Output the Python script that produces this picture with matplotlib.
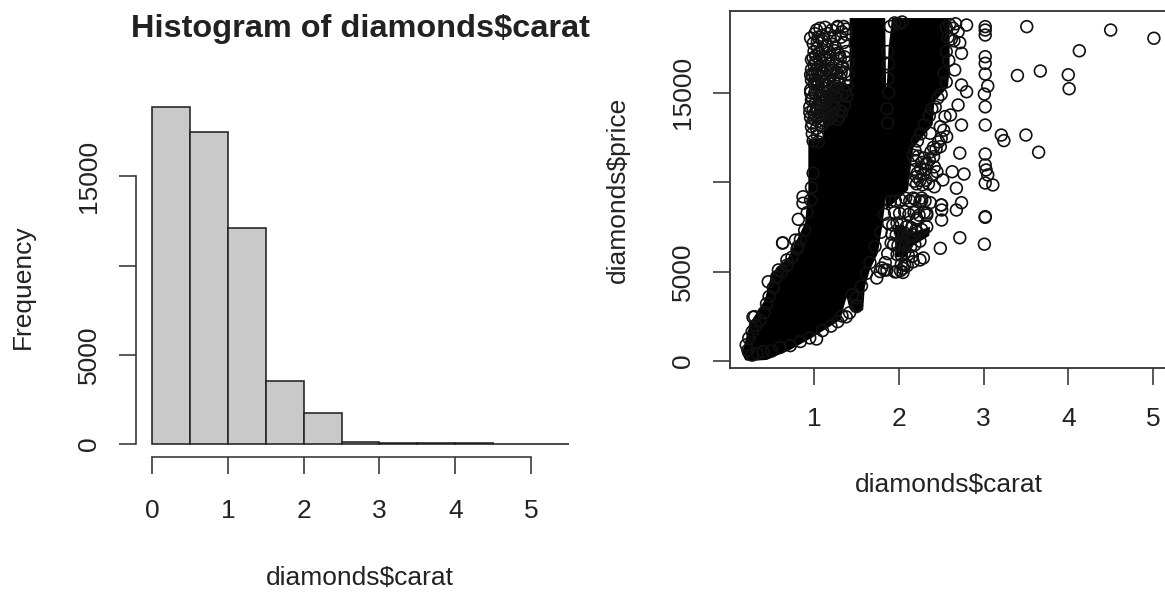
import numpy as np
import matplotlib
matplotlib.use('Agg')
import matplotlib.pyplot as plt

plt.rcParams['font.family'] = ['Liberation Sans', 'DejaVu Sans']

W, H = 1165, 592

# histogram of carat
bin_edges = [0, 0.5, 1, 1.5, 2, 2.5, 3, 3.5, 4, 4.5, 5, 5.5]
bin_counts = [18930, 17520, 12080, 3540, 1740, 90, 14, 6, 3, 1, 1]

# readable single points of the scatter (carat, price)
outlier_carat = [2.80, 3.02, 3.02, 3.02, 3.51, 4.50, 5.01, 4.13, 3.67, 3.40, 4.00, 4.01, 3.50, 3.21, 3.24, 3.65,
                 3.02, 3.02, 3.02, 3.05, 3.01, 3.02, 3.02, 3.02, 3.02, 3.03, 3.05, 3.02, 3.11,
                 2.72, 2.74, 2.66, 2.74, 2.80, 2.70, 2.61, 2.74, 2.72, 2.63, 2.77, 2.52, 2.42, 2.68,
                 2.565, 2.49, 2.41, 2.33, 2.45, 2.21, 2.37, 2.49, 2.545,
                 0.63, 0.63, 0.815, 0.87, 0.87, 3.02, 3.02, 3.01, 2.72, 2.49, 2.505, 2.505, 2.68, 2.74,
                 2.33, 2.27, 2.17, 2.21, 2.29, 2.17, 1.975, 1.86, 1.74, 1.50, 1.50, 1.50, 1.33, 1.03,
                 0.30, 0.28, 0.58, 0.46, 0.68, 0.81, 0.78, 2.50, 2.506, 2.33, 2.21, 2.27, 2.05, 1.955, 1.83]
outlier_price = [18780, 18690, 18500, 18220, 18690, 18500, 18040, 17340, 16210, 15960, 16000, 15220, 12630, 12630, 12320, 11670,
                 17010, 16640, 16040, 15370, 14920, 14210, 13190, 11570, 10960, 10680, 10400, 9950, 9840,
                 17790, 17200, 16270, 15430, 15050, 14310, 13750, 13190, 11620, 10580, 10450, 10120, 9740, 9660,
                 12540, 11980, 11420, 11060, 10580, 10300, 12730, 13100, 13660,
                 6610, 6590, 7920, 9180, 8820, 8070, 8030, 6530, 6890, 6300, 7880, 8720, 8440, 8850,
                 8270, 9110, 9110, 7990, 5760, 5550, 4990, 5090, 4640, 3040, 3100, 3520, 2520, 1230,
                 2480, 2450, 5090, 4430, 5650, 6390, 6760, 8720, 8440, 8160, 7880, 8950, 5180, 4980, 5080]

# looser points upper left of the mass, near 1 to 1.4 carat
loose_carat = [1.03, 1.05, 1.28, 1.33, 1.38, 1.22, 1.10, 1.04, 1.00, 1.09, 1.18, 1.25, 1.35, 0.99, 1.02, 1.07, 1.14, 1.22,
               1.30, 1.38, 1.20, 0.97, 0.96, 1.01, 1.06, 1.12, 1.17, 1.27, 1.33, 1.40, 0.97, 1.00, 1.04, 1.09, 1.15,
               1.24, 1.31, 0.96, 1.01, 1.06, 1.11, 1.18, 1.26, 1.34, 1.39, 0.97, 1.02, 1.07, 1.14, 1.20, 0.95, 0.99,
               1.04, 1.09, 1.14, 1.22, 1.30, 0.96, 1.01, 1.06, 1.12, 0.97, 1.03, 1.09, 0.98, 1.04, 0.99, 1.05,
               0.97, 1.00, 1.02, 1.03, 1.06, 1.08, 1.10, 1.13, 1.15, 1.17, 1.19, 1.22, 1.24, 1.26, 1.28, 1.31, 1.34, 1.36,
               0.98, 1.01, 1.04, 1.05, 1.08, 1.11, 1.12, 1.16, 1.18, 1.21, 1.23, 1.27, 1.29, 1.32, 1.36, 1.40,
               0.96, 0.98, 1.02, 1.03, 1.07, 1.08, 1.12, 1.14, 1.17, 1.20, 1.23, 1.25, 1.29, 1.33, 1.37, 1.39,
               0.95, 0.98, 1.00, 1.03, 1.05, 1.08, 1.10, 1.13, 1.16, 1.18, 1.21, 1.24, 1.28, 1.30, 1.33, 1.36,
               0.96, 0.99, 1.01, 1.04, 1.07, 1.10, 1.13, 1.16, 1.19, 1.21, 1.25, 1.28, 1.32, 1.35, 1.38]
loose_price = [18500, 18100, 18700, 18400, 18550, 17700, 17900, 17500, 17300, 17050, 17250, 17550, 17800, 16950,
               16700, 16800, 16950, 16700, 17100, 17300, 16350, 16300, 16000, 16050, 16250, 16100, 15850, 16000,
               16400, 16700, 15700, 15500, 15650, 15600, 15400, 15550, 15800, 15150, 15000, 15150, 15050, 14850,
               15000, 15200, 15400, 14600, 14450, 14650, 14500, 14350, 14200, 14050, 13950, 14150, 13950, 13800,
               14000, 13600, 13500, 13650, 13450, 13100, 13000, 13150, 12700, 12600, 12300, 12250,
               16850, 16550, 17050, 16300, 17200, 16500, 17400, 16850, 17600, 16600, 17100, 16250, 17350, 16600, 17200, 16900, 16450, 17000,
               15950, 15750, 16050, 15400, 15900, 16100, 15650, 16300, 15550, 16000, 15700, 16150, 15500, 16100, 16150, 16000,
               15000, 14700, 14900, 14200, 14850, 14300, 15250, 14700, 15100, 14850, 15200, 14750, 15250, 14850, 15050, 14800,
               13900, 13300, 13800, 14050, 13400, 13750, 13300, 13800, 14100, 13500, 13650, 14200, 13500, 13700, 13900, 14300,
               18050, 17750, 18300, 17850, 18600, 18200, 18650, 18300, 18050, 18500, 18150, 18650, 18100, 18700, 18250]

# points along the loose lower right arm, near 2 to 2.4 carat
arm_carat = [1.90, 1.96, 2.02, 2.08, 2.13, 2.19, 2.25, 2.31, 2.37, 1.95, 2.01, 2.07, 2.12, 2.18, 2.24, 2.30,
             1.88, 1.93, 1.98, 2.03, 2.09, 2.15, 2.20, 1.92, 1.97, 2.02, 2.07, 2.12, 2.17, 2.22, 2.27, 2.33,
             1.94, 1.99, 2.04, 2.09, 2.14, 2.19, 2.25, 1.98, 2.03, 2.07, 2.11, 2.16, 2.03, 2.07, 2.02, 2.05,
             1.91, 1.87, 1.84, 1.80, 1.78, 2.10, 2.25,
             2.17, 2.20, 2.23, 2.27, 2.30, 2.33, 2.36, 2.19, 2.22, 2.26, 2.29, 2.32, 2.18, 2.21, 2.25, 2.28,
             2.32, 2.35, 2.39, 2.42, 2.38, 2.41, 2.44, 2.47, 2.50, 2.53]
arm_price = [8900, 8950, 9000, 9100, 8950, 9050, 8900, 8950, 8850, 8300, 8250, 8350, 8200, 8300, 8150, 8300,
             7700, 7600, 7700, 7650, 7500, 7450, 7300, 7100, 7050, 7200, 7150, 7000, 7050, 7200, 7350, 7500,
             6500, 6450, 6600, 6500, 6400, 6500, 6700, 5950, 5900, 6050, 5950, 5850, 5400, 5350, 5050, 4950,
             6600, 6000, 5500, 5200, 5000, 5330, 5650,
             11500, 11200, 11450, 11100, 11350, 11000, 11250, 10700, 10500, 10750, 10450, 10700, 10050, 9900, 10100, 9850,
             10100, 9900, 10400, 10850, 11700, 11950, 11850, 12250, 12450, 12900]

# circles sticking out around the solid area
edge_carat = [0.22, 0.27, 0.33, 0.40, 0.50, 0.60, 0.72, 0.84, 0.95, 1.10, 1.20, 1.28, 1.38, 1.42,
              0.20, 0.23, 0.27, 0.31, 0.36, 0.41, 0.44, 0.47, 0.52, 0.56, 0.62, 0.68, 0.74, 0.80, 0.84, 0.89,
              0.92, 0.96, 0.97, 0.99, 1.90, 1.95, 2.00, 2.04, 2.56, 2.60, 2.64, 2.67, 2.70, 2.58, 2.62, 2.65,
              2.56, 2.59, 2.53, 2.56, 2.50, 2.46, 2.43, 2.39, 2.36, 2.30, 2.26, 2.22, 2.19, 1.87, 1.88, 1.87,
              1.88, 1.86, 1.87, 1.83, 1.79, 1.72, 1.66, 1.62, 1.56, 1.45]
edge_price = [600, 330, 420, 520, 560, 760, 860, 1090, 1290, 1700, 1950, 2200, 2470, 2700,
              900, 1280, 1640, 1990, 2260, 2700, 3200, 3600, 4100, 4700, 5000, 5350, 5800, 6250, 6800, 7300,
              8300, 9000, 9700, 10500, 18700, 18900, 18850, 18950, 18650, 18800, 18600, 18850, 18400, 18100, 18000, 17900,
              17300, 16800, 16100, 15600, 14900, 14700, 14200, 14100, 13700, 13200, 12700, 12300, 11800, 17300, 16600, 15800,
              15000, 14100, 13300, 8200, 7200, 6400, 5500, 4900, 4200, 3700]

# where overplotting is solid black no single point can be read: outlines of those areas
dense_carat = [0.19, 0.15, 0.17, 0.245, 0.42, 0.50, 0.70, 0.894, 0.933, 0.933, 1.11, 1.11, 1.20, 1.42, 1.42, 1.84, 1.85, 1.87,
               1.86, 1.81, 1.755, 1.66, 1.60, 1.58, 1.50, 1.42, 1.385, 1.31, 0.99, 0.717, 0.445, 0.24, 0.19]
dense_price = [40, 400, 780, 2120, 3410, 4900, 5810, 7710, 9560, 12350, 12500, 15000, 15300, 15500, 19170, 19170, 15500, 15000,
               9560, 7710, 6040, 5090, 4140, 2850, 2700, 2900, 3580, 2290, 1340, 615, 60, 0, 40]
dense2_carat = [1.85, 1.86, 1.88, 1.92, 2.60, 2.60, 2.58, 2.42, 2.40, 2.17, 2.11, 1.98, 1.85]
dense2_price = [9560, 15500, 17500, 19170, 19170, 16300, 15300, 14500, 13200, 11900, 9560, 9000, 8440]
patch_carat = [1.955, 2.06, 2.10, 2.37, 2.36, 2.12, 2.08, 1.96]
patch_price = [7600, 7600, 7100, 7500, 7000, 6300, 5800, 5800]


def place(left, right, top, bottom):
    """Axes rectangle from pixel edges of the picture."""
    return [left / W, 1 - bottom / H, (right - left) / W, (bottom - top) / H]


def style_axis(ax, xticks, yticks, ylabels, length, xpad):
    ax.set_xticks(xticks)
    ax.set_yticks(yticks)
    ax.set_yticklabels(ylabels, rotation=90, va='center')
    ax.tick_params(length=length, width=1.15, color='#333333', labelsize=19, labelcolor='#222222')
    ax.tick_params(axis='x', pad=xpad)
    ax.tick_params(axis='y', pad=13)


fig = plt.figure(figsize=(W / 100, H / 100), dpi=100)

# left panel
ax1 = fig.add_axes(place(136, 585.5, 93, 457))
ax1.bar(bin_edges[:-1], bin_counts, width=0.5, align='edge', color='#c9c9c9', edgecolor='#222222', linewidth=1.15)
ax1.set_xlim(-0.215, 5.72)
ax1.set_ylim(-756, 19690)
ax1.spines[['top', 'right']].set_visible(False)
ax1.spines['left'].set_bounds(0, 15000)
ax1.spines['bottom'].set_bounds(0, 5)
for side in ['left', 'bottom']:
    ax1.spines[side].set_color('#333333')
    ax1.spines[side].set_linewidth(1.15)
style_axis(ax1, [0, 1, 2, 3, 4, 5], [0, 5000, 10000, 15000], ['0', '5000', '', '15000'], 12.5, 18)

# right panel
ax2 = fig.add_axes(place(730, 1170, 11, 368))
ax2.fill(dense_carat, dense_price, color='black', lw=0)
ax2.fill(dense2_carat, dense2_price, color='black', lw=0)
ax2.fill(patch_carat, patch_price, color='black', lw=0)
for xs, ys in [(outlier_carat, outlier_price), (loose_carat, loose_price), (arm_carat, arm_price), (edge_carat, edge_price)]:
    ax2.scatter(xs, ys, s=72, facecolors='none', edgecolors='#111111', linewidths=1.2)
ax2.set_xlim(0.009, 5.2)
ax2.set_ylim(-391, 19564)
for s in ax2.spines.values():
    s.set_color('#333333')
    s.set_linewidth(1.3)
style_axis(ax2, [1, 2, 3, 4, 5], [0, 5000, 10000, 15000], ['0', '5000', '', '15000'], 12.5, 15.5)

# titles and axis labels
def label(x, y, s, **kw):
    fig.text(x / W, 1 - y / H, s, ha='center', va='center', color='#222222', **kw)

label(360, 29, 'Histogram of diamonds$carat', fontsize=23.4, fontweight='bold')
label(360, 578, 'diamonds$carat', fontsize=19)
label(23, 287, 'Frequency', fontsize=19, rotation=90)
label(949, 485, 'diamonds$carat', fontsize=19)
label(618, 190, 'diamonds$price', fontsize=19, rotation=90)

fig.savefig('out.png', dpi=100)
